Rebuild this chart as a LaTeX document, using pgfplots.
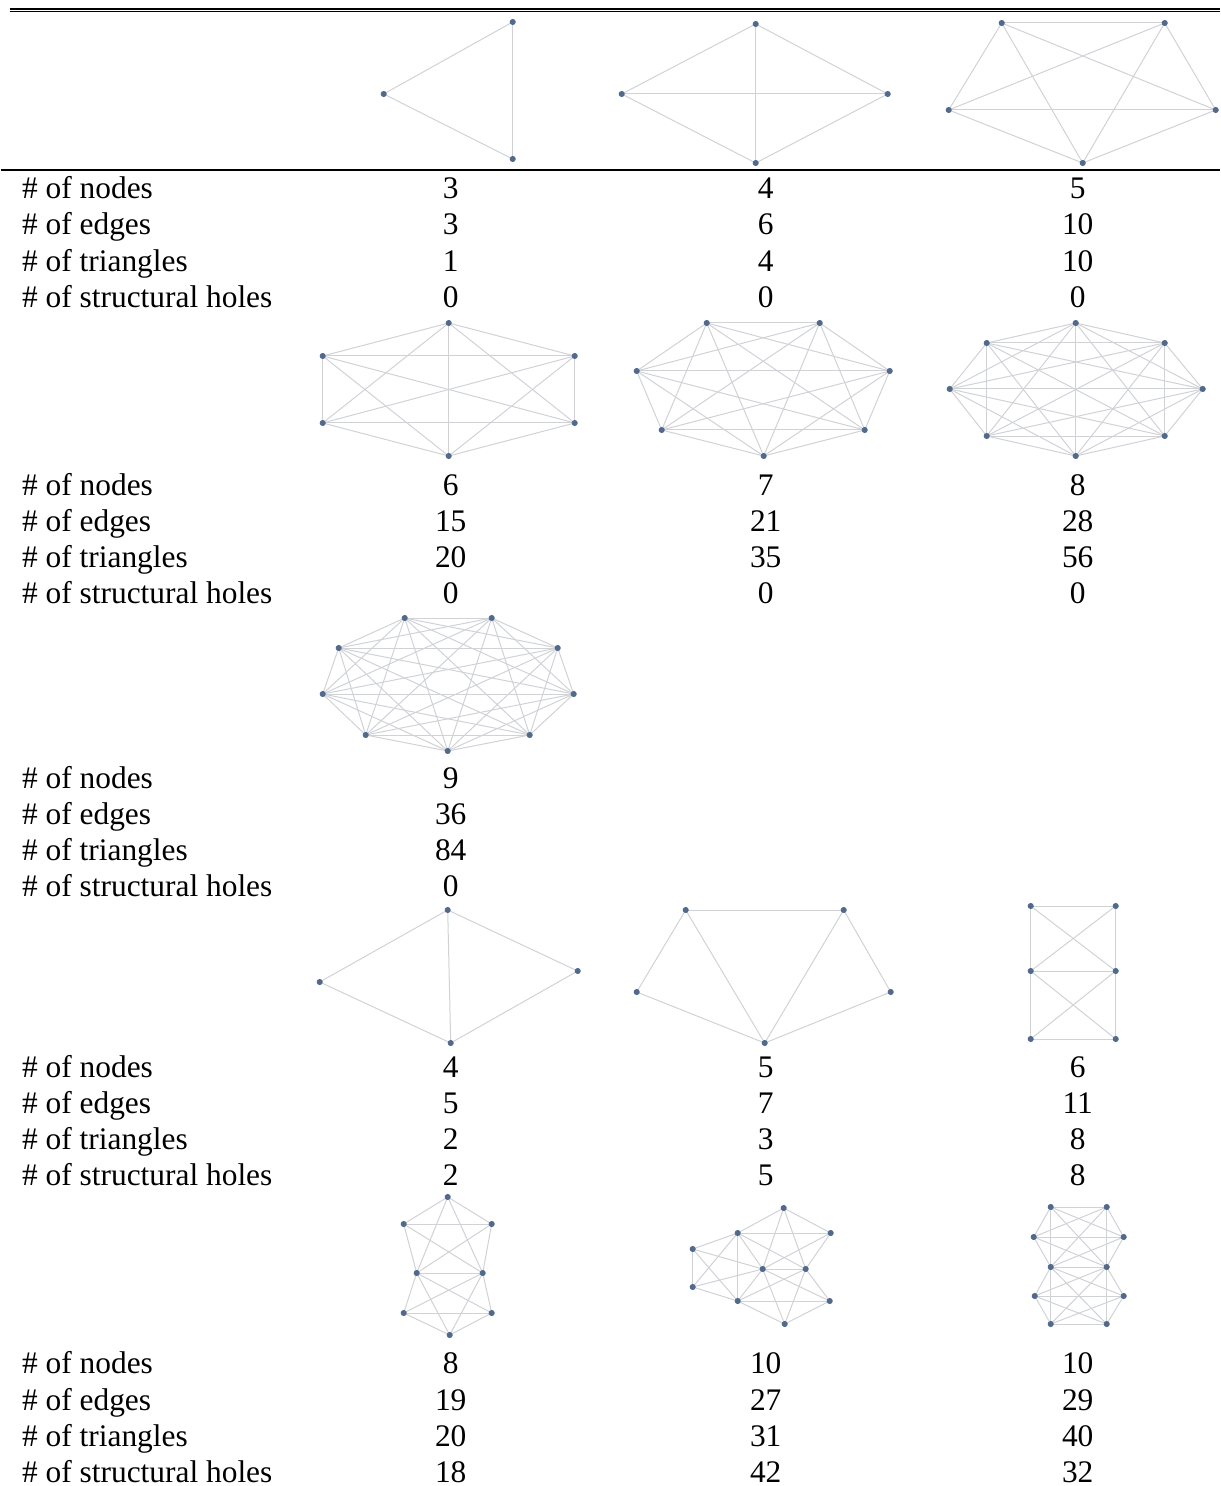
\documentclass[border=0pt]{standalone}
\usepackage{fontspec}
\setmainfont{Liberation Serif}
\usepackage{pgfplots}
\pgfplotsset{compat=1.18}
\definecolor{edgegray}{RGB}{208,210,214}
\definecolor{dotblue}{RGB}{80,105,140}
\pgfplotsset{
  edge/.style={color=edgegray, line width=0.5pt, mark=none, forget plot},
  dot/.style={only marks, mark=*, mark size=1.3pt, color=dotblue, forget plot},
  rule/.style={color=black, line width=0.7pt, mark=none, forget plot},
}
\tikzset{
  lbl/.style={anchor=base west, inner sep=0pt, font=\fontsize{15.7pt}{18pt}\selectfont},
  num/.style={anchor=base, inner sep=0pt, font=\fontsize{15.7pt}{18pt}\selectfont},
}
\newcount\gn
\newcommand\setnodes[1]{%
  \global\gn=0
  \foreach \x/\y in {#1}{%
    \global\advance\gn by 1
    \expandafter\xdef\csname gx\the\gn\endcsname{\x}%
    \expandafter\xdef\csname gy\the\gn\endcsname{\y}%
  }%
}
\newcommand\onedge[2]{%
  \edef\tmp{\noexpand\addplot[edge] coordinates {(\csname gx#1\endcsname,\csname gy#1\endcsname) (\csname gx#2\endcsname,\csname gy#2\endcsname)};}%
  \tmp}
\newcommand\edgelist[1]{\foreach \ii/\jj in {#1}{\onedge{\ii}{\jj}}}
\newcommand\completerange[2]{%
  \foreach \ii in {#1,...,#2}{%
    \foreach \jj in {\ii,...,#2}{%
      \ifnum\ii<\jj\relax \onedge{\ii}{\jj}\fi
    }}}
\newcommand\drawdots{%
  \gdef\pts{}%
  \edef\nn{\the\gn}%
  \foreach \ii in {1,...,\nn}{\xdef\pts{\pts(\csname gx\ii\endcsname,\csname gy\ii\endcsname)}}%
  \edef\tmp{\noexpand\addplot[dot] coordinates {\pts};}\tmp}
\newcommand\row[5]{%
  \node[lbl] at (axis cs:21,#1) {#2};
  \node[num] at (axis cs:450,#1) {#3};
  \node[num] at (axis cs:765,#1) {#4};
  \node[num] at (axis cs:1077,#1) {#5};}
\begin{document}
\begin{tikzpicture}
\begin{axis}[scale only axis, width=609.5pt, height=743pt,
  xmin=0, xmax=1219, ymin=0, ymax=1486, y dir=reverse,
  hide axis, clip=false]
\addplot[draw=none, forget plot] coordinates {(0,0) (1219,1486)};
% rules
\addplot[rule, line width=0.85pt] coordinates {(9,8.8) (1219,8.8)};
\addplot[rule, line width=0.65pt] coordinates {(9,11.7) (1219,11.7)};
\addplot[rule] coordinates {(0,170) (1219,170)};
% block 1
\setnodes{383/94, 512/22, 512/159}\completerange{1}{3}\drawdots
\setnodes{621/94, 755/24, 887/94, 755/163}\completerange{1}{4}\drawdots
\setnodes{1001/23, 1164/23, 1215/110, 1082/163, 948/110}\completerange{1}{5}\drawdots
% block 2
\setnodes{448/323, 322/356, 574/356, 322/423, 574/423, 448/456}\completerange{1}{6}\drawdots
\setnodes{706/323, 819/323, 636/371, 889/371, 661/430, 864/430, 763/456}\completerange{1}{7}\drawdots
\setnodes{1075/323, 986/343, 1164/343, 949/389, 1202/389, 986/436, 1164/436, 1075/456}\completerange{1}{8}\drawdots
% block 3
\setnodes{404/618, 491/618, 338/648, 557/648, 322/694, 573/694, 365/735, 529/735, 447/751}\completerange{1}{9}\drawdots
% block 4
\setnodes{319/982, 447/910, 577/971, 450/1043}\edgelist{1/2,2/3,3/4,4/1,2/4}\drawdots
\setnodes{685/910, 843/910, 636/992, 890/992, 764/1043}\edgelist{1/2,1/3,3/5,1/5,2/5,2/4,4/5}\drawdots
\setnodes{1030/906, 1115/906, 1030/971, 1115/971, 1030/1039, 1115/1039}\edgelist{1/2,1/3,2/4,1/4,2/3,3/4,3/5,4/6,3/6,4/5,5/6}\drawdots
% block 5
\setnodes{447/1197, 403/1224, 491/1224, 416/1273, 482/1273, 403/1313, 491/1313, 449/1335}\completerange{1}{5}\completerange{6}{8}\edgelist{4/6,4/7,4/8,5/6,5/7,5/8}\drawdots
\setnodes{783/1208, 737/1233, 830/1233, 692/1249, 762/1269, 805/1269, 692/1287, 737/1301, 829/1301, 784/1324}%
\edgelist{1/2,1/3,1/5,1/6,2/3,2/5,2/6,3/5,3/6,5/6,5/8,5/9,5/10,6/8,6/9,6/10,8/9,8/10,9/10,2/4,2/7,2/8,4/7,4/8,7/8,4/5,7/5}\drawdots
\setnodes{1050/1207, 1106/1207, 1033/1237, 1123/1237, 1050/1267, 1106/1267, 1034/1296, 1123/1296, 1050/1324, 1106/1324}%
\completerange{1}{6}\completerange{7}{10}\edgelist{5/7,5/8,5/9,5/10,6/7,6/8,6/9,6/10}\drawdots
% text
\row{199}{\# of nodes}{3}{4}{5}
\row{235}{\# of edges}{3}{6}{10}
\row{272}{\# of triangles}{1}{4}{10}
\row{308}{\# of structural holes}{0}{0}{0}
\row{495}{\# of nodes}{6}{7}{8}
\row{531}{\# of edges}{15}{21}{28}
\row{567}{\# of triangles}{20}{35}{56}
\row{603}{\# of structural holes}{0}{0}{0}
\row{788}{\# of nodes}{9}{}{}
\row{824}{\# of edges}{36}{}{}
\row{860}{\# of triangles}{84}{}{}
\row{896}{\# of structural holes}{0}{}{}
\row{1077}{\# of nodes}{4}{5}{6}
\row{1113}{\# of edges}{5}{7}{11}
\row{1149}{\# of triangles}{2}{3}{8}
\row{1185}{\# of structural holes}{2}{5}{8}
\row{1373}{\# of nodes}{8}{10}{10}
\row{1410}{\# of edges}{19}{27}{29}
\row{1446}{\# of triangles}{20}{31}{40}
\row{1482}{\# of structural holes}{18}{42}{32}
\end{axis}
\end{tikzpicture}
\end{document}
